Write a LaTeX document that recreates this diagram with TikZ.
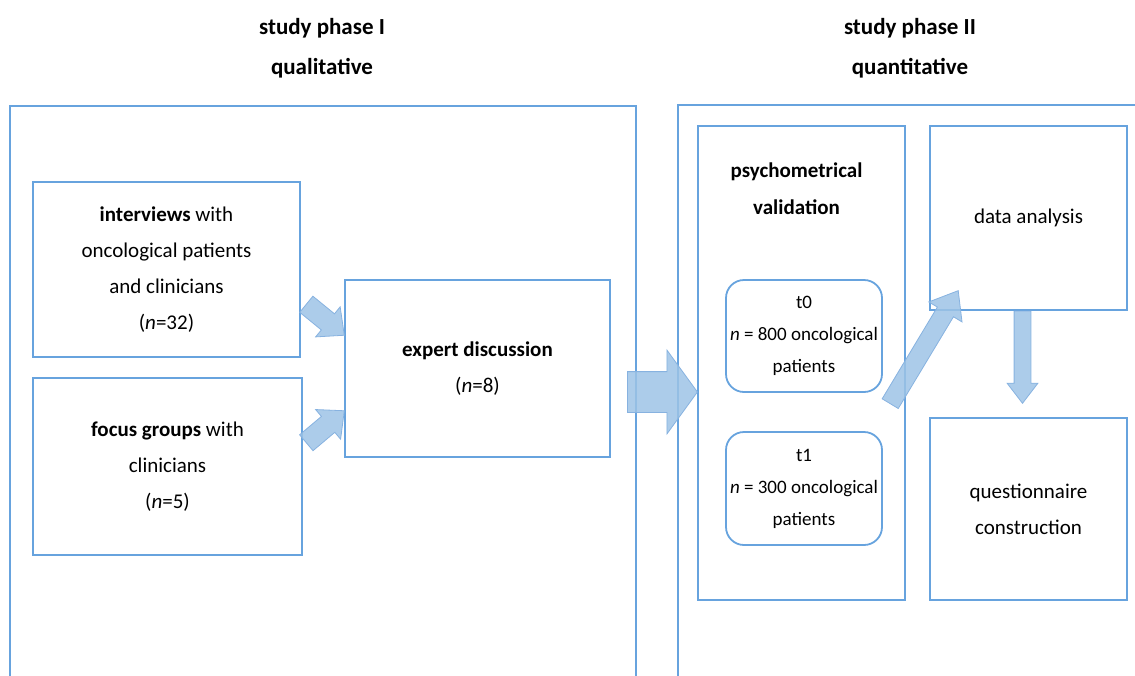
\documentclass[tikz,border=0pt]{standalone}
\usepackage{fontspec}
\setmainfont{Carlito}
\usetikzlibrary{shapes.arrows,calc}
\definecolor{boxline}{RGB}{103,163,222}
\definecolor{arrowfill}{RGB}{157,195,230}
\definecolor{arrowline}{RGB}{135,178,224}
\tikzset{
  box/.style={draw=boxline, line width=1.8pt, align=center, inner sep=0pt, font=\fontsize{21}{36}\selectfont},
  roundbox/.style={box, rounded corners=18pt, font=\fontsize{19}{32}\selectfont},
  frame/.style={draw=boxline, line width=1.8pt},
  title/.style={align=center, font=\fontsize{23}{40}\selectfont\bfseries},
  arrowbody/.style={single arrow, draw=arrowline, fill=arrowfill, fill opacity=0.85, line width=0.8pt, single arrow head indent=0pt},
  fatarrow/.style n args={3}{to path={let \p1=($(\tikztotarget)-(\tikztostart)$), \n1={atan2(\y1,\x1)}, \n2={veclen(\x1,\y1)} in node[arrowbody, anchor=tail, rotate=\n1, minimum height=\n2, inner xsep=0pt, inner ysep=#1, single arrow head extend=#2, single arrow tip angle=#3] at (\tikztostart) {}}}
}
\begin{document}
\begin{tikzpicture}[x=1pt, y=-1pt]
  \clip (0,0) rectangle (1135,675);
  \node[title] (titleone) at (322,48) {study phase I\\qualitative};
  \node[title] (titletwo) at (910,48) {study phase II\\quantitative};
  \draw[frame] (10,106) rectangle (636,700);
  \draw[frame] (678,105) rectangle (1160,700);
  \node[box, minimum width=267, minimum height=175] (interviews) at (166.5,269.5) {\textbf{interviews} with\\oncological patients\\and clinicians\\(\textit{n}=32)};
  \node[box, minimum width=269, minimum height=177] (focus) at (167.5,466.5) {\textbf{focus groups} with\\clinicians\\(\textit{n}=5)};
  \node[box, minimum width=265, minimum height=177] (expert) at (477.5,368.5) {\textbf{expert discussion}\\(\textit{n}=8)};
  \node[box, minimum width=207, minimum height=474, label={[anchor=north, align=center, font=\fontsize{21}{37}\selectfont\bfseries, yshift=-34pt, xshift=-5pt]north:psychometrical\\validation}] (psych) at (801.5,363) {};
  \node[roundbox, minimum width=156, minimum height=112] (tzero) at (804,336) {t0\\\textit{n} = 800 oncological\\patients};
  \node[roundbox, minimum width=156, minimum height=113] (tone) at (804,488.5) {t1\\\textit{n} = 300 oncological\\patients};
  \node[box, minimum width=197, minimum height=184] (analysis) at (1028.5,218) {data analysis};
  \node[box, minimum width=197, minimum height=182] (questionnaire) at (1028.5,509) {questionnaire\\construction};
  \coordinate (ione) at (306,304);
  \coordinate (itwo) at (344,335);
  \coordinate (fone) at (306,443);
  \coordinate (ftwo) at (344,411);
  \coordinate (pone) at (627,392);
  \coordinate (ptwo) at (697,392);
  \coordinate (vone) at (890,404);
  \coordinate (vtwo) at (958,291);
  \path (ione) to[fatarrow={10}{9}{85}] (itwo);
  \path (fone) to[fatarrow={10}{9}{85}] (ftwo);
  \path (pone) to[fatarrow={20}{21.5}{108}] (ptwo);
  \path (vone) to[fatarrow={9}{10}{76}] (vtwo);
  \path (analysis.south) ++(-6,0) coordinate (aone) to[fatarrow={8}{7}{75}] ++(0,92);
\end{tikzpicture}
\end{document}
